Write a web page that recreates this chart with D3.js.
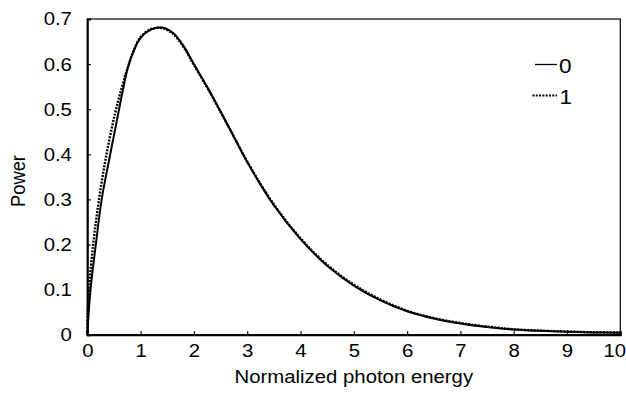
<!DOCTYPE html>
<html><head><meta charset="utf-8">
<script src="https://cdn.jsdelivr.net/npm/d3@7"></script>
<style>
html,body{margin:0;padding:0;background:#fff;}
text{font-family:"Liberation Sans",Arial,sans-serif;fill:#000;}
</style></head>
<body><svg id="c" width="626" height="401"></svg>
<script>
// Data
const seriesNames = ["0", "1"];
const xSolid = [0, 0.06, 0.16, 0.27, 0.43, 0.55, 0.65, 0.76, 0.88, 1.0, 1.2, 1.4, 1.6, 1.8, 2.0, 2.25, 2.5, 2.75, 3.0, 3.5, 4.0, 4.5, 5.0, 5.5, 6.0, 6.5, 7.0, 7.5, 8.0, 8.5, 9.0, 9.5, 10.0];
const ySolid = [0, 0.10, 0.20, 0.30, 0.40, 0.472, 0.532, 0.592, 0.632, 0.658, 0.677, 0.681, 0.670, 0.641, 0.600, 0.549, 0.495, 0.439, 0.383, 0.287, 0.212, 0.153, 0.109, 0.076, 0.052, 0.036, 0.025, 0.017, 0.0115, 0.0085, 0.0065, 0.005, 0.0045];
const xDotted = [0, 0.01, 0.03, 0.11, 0.22, 0.36, 0.52, 0.64, 0.74, 0.86, 1.0, 1.2, 1.4, 1.6, 1.8, 2.0, 2.25, 2.5, 2.75, 3.0, 3.5, 4.0, 4.5, 5.0, 5.5, 6.0, 6.5, 7.0, 7.5, 8.0, 8.5, 9.0, 9.5, 10.0];
const yDotted = [0, 0.05, 0.10, 0.20, 0.30, 0.40, 0.49, 0.545, 0.585, 0.627, 0.660, 0.678, 0.680, 0.668, 0.639, 0.598, 0.548, 0.494, 0.439, 0.384, 0.289, 0.214, 0.155, 0.111, 0.078, 0.053, 0.037, 0.026, 0.018, 0.012, 0.009, 0.007, 0.0055, 0.005];
const xTicks = [0,1,2,3,4,5,6,7,8,9,10];
const yTicks = [0,0.1,0.2,0.3,0.4,0.5,0.6,0.7];
const xTitle = "Normalized photon energy";
const yTitle = "Power";

const svg = d3.select("#c");
const L = 87.3, R = 620.3, T = 19, B = 334.7;
const SX = 1.1;
const x = d3.scaleLinear().domain([0,10]).range([L,R]);
const y = d3.scaleLinear().domain([0,0.7]).range([B,T]);

// frame
svg.append("rect").attr("x",L).attr("y",T).attr("width",R-L).attr("height",B-T)
  .attr("fill","none").attr("stroke","#000").attr("stroke-width",1.2);

const xa = svg.append("g").attr("transform",`translate(0,${B})`)
  .call(d3.axisBottom(x).tickValues(xTicks).tickFormat(d3.format("d")).tickSize(-3.5).tickPadding(9));
const ya = svg.append("g").attr("transform",`translate(${L},0)`)
  .call(d3.axisLeft(y).tickValues(yTicks).tickFormat(d => d===0 ? "0" : d3.format(".1f")(d)).tickSize(-3.5).tickPadding(14));
[xa, ya].forEach(g => {
  g.select(".domain").attr("stroke","#000").attr("stroke-width",2);
  g.selectAll(".tick line").attr("stroke","#000").attr("stroke-width",1.2);
  g.selectAll(".tick text").attr("font-size",18.5).attr("font-family","Liberation Sans, Arial, sans-serif")
    .attr("fill","#000").attr("transform",`scale(${SX},1)`);
});
xa.selectAll(".tick text").filter(d => d === 10).attr("x", -5.5);

const line = d3.line().x(d => x(d[0])).y(d => y(d[1])).curve(d3.curveCatmullRom.alpha(0.5));
const solid = xSolid.map((v,i)=>[v, ySolid[i]]);
const dotted = xDotted.map((v,i)=>[v, yDotted[i]]);
svg.append("path").attr("d", line(solid)).attr("fill","none").attr("stroke","#000").attr("stroke-width",2);
svg.append("path").attr("d", line(dotted)).attr("fill","none").attr("stroke","#000").attr("stroke-width",2.4).attr("stroke-dasharray","2,1.3");

// titles
svg.append("text").attr("transform",`translate(${(L+R)/2},382.5) scale(${SX},1)`)
  .attr("text-anchor","middle").attr("font-size",18.5).text(xTitle);
svg.append("text").attr("transform",`translate(24.5,181) scale(${SX},1) rotate(-90)`)
  .attr("text-anchor","middle").attr("font-size",18.3).text(yTitle);

// legend
const leg = svg.append("g");
const legY = [64.5, 95.5];
seriesNames.forEach((n,i) => {
  leg.append("line").attr("x1", i===0?535:532.5).attr("x2",557).attr("y1",legY[i]).attr("y2",legY[i])
    .attr("stroke","#000").attr("stroke-width", i===0?1.3:2).attr("stroke-dasharray", i===0?null:"2,1.3");
  leg.append("text").attr("transform",`translate(${i===0?559:559.5},${legY[i]+8.7}) scale(${SX},1)`)
    .attr("font-size",20.5).text(n);
});
</script></body></html>
